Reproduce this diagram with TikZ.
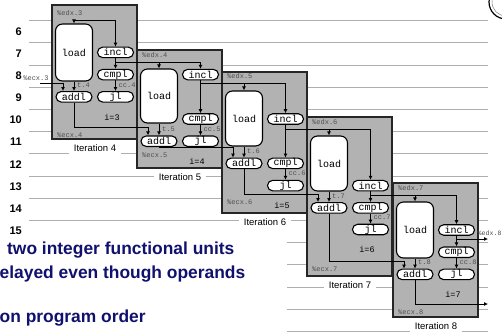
\documentclass[tikz,border=0pt]{standalone}
\usepackage{fontspec}
\setmainfont{Liberation Sans}
\setmonofont{Liberation Mono}
\usetikzlibrary{arrows.meta}
\definecolor{boxgray}{RGB}{178,178,178}
\definecolor{navy}{RGB}{16,16,110}
\definecolor{gridgray}{RGB}{175,175,175}
\definecolor{lblgray}{RGB}{80,80,80}
\begin{document}
\begin{tikzpicture}[x=1pt,y=-1pt,
  iterbox/.style={draw=black!85,line width=1.3pt,fill=boxgray},
  instr/.style={draw=black,line width=1.1pt,fill=white,rounded corners=5.2pt,minimum width=36pt,minimum height=10.5pt,inner sep=0pt,font=\ttfamily\fontsize{10}{10}\selectfont},
  loadbox/.style={draw=black,line width=1.1pt,fill=white,rounded corners=7pt,minimum width=37pt,inner sep=0pt,font=\ttfamily\fontsize{10}{10}\selectfont},
  wire/.style={line width=0.9pt},
  arr/.style={wire,-{Latex[length=4pt,width=4pt]}},
  smalllbl/.style={font=\ttfamily\fontsize{7}{7}\selectfont,text=lblgray,inner sep=0pt},
  ilabel/.style={font=\ttfamily\fontsize{8.5}{8.5}\selectfont,inner sep=0pt},
  itername/.style={font=\fontsize{9.5}{9.5}\selectfont,fill=white,inner xsep=5pt,inner ysep=3.5pt},
  rownum/.style={font=\bfseries\fontsize{11}{11}\selectfont,anchor=east,inner sep=0pt},
  bullettext/.style={font=\bfseries\fontsize{17.4}{17.4}\selectfont,text=navy,anchor=west,inner sep=0pt},
  gridline/.style={draw=gridgray,line width=0.6pt}
]
\useasboundingbox (0,0) rectangle (502,332);
\fill[white] (0,0) rectangle (502,332);
% background timing lines
\foreach \g in {0,...,14}{
  \draw[gridline] (29,{20.4+22.2*\g}) -- (488,{20.4+22.2*\g});
}
% row numbers
\foreach \n [count=\i from 0] in {6,...,15}{
  \node[rownum] (r\n) at (22,{31.6+22.1*\i}) {\n};
}
% input %ecx.3
\coordinate (ecxin) at (40,83);
\node[smalllbl] (ecx3) at (36,78) {\%ecx.3};
% iterations
\foreach \k/\bx/\bt/\bb/\wy/\lt/\lb/\ic/\cy/\jy/\ay/\oy/\iy in {
 4/52/5/139/20/24/81/52.4/74.6/96.8/96.8/127/117.5,
 5/137/50/168/62/69/123/74.6/119/141.2/141.2/147/161,
 6/222/72/213/83/91/146/119/163.4/185.6/163.4/194/205,
 7/307/117/276/129/136/191/185.6/207.8/229.5/207.8/261/249,
 8/393/183/317/195/202/258/230/252.2/274.4/274.4/304/294}{
  \pgfmathtruncatemacro\pk{\k-1}
  \pgfmathsetmacro\lh{\lb-\lt}
  \draw[iterbox] (\bx,\bt) rectangle ({\bx+85},\bb);
  \node[loadbox,minimum height=\lh pt] (ld\k) at ({\bx+22},{(\lt+\lb)/2}) {load};
  \node[instr] (in\k) at ({\bx+63.5},\ic) {incl};
  \node[instr] (cm\k) at ({\bx+63.5},\cy) {cmpl};
  \node[instr] (jl\k) at ({\bx+63.5},\jy) {jl};
  \node[instr] (ad\k) at ({\bx+22},\ay) {addl};
  \coordinate (e\k) at ({\bx+22},\wy);
  \coordinate (o\k) at ({\bx+22},\oy);
  % %edx wire
  \draw[arr] (e\k) -- (ld\k);
  \draw[arr] (e\k) -| (in\k);
  \ifnum\k>4
    \draw[wire] (in\pk.south |- e\k) -- (e\k);
    \draw[arr] (ad\pk.south) -- (o\pk) -| ([xshift=-11pt]ad\k.north);
  \else
    \draw[arr] (ecxin) -| ([xshift=-11pt]ad\k.north);
  \fi
  \draw[arr] (ld\k) -- (ad\k);
  \draw[arr] (in\k) -- (cm\k);
  \draw[arr] (cm\k) -- (jl\k);
  \node[smalllbl,anchor=west] (tl\k) at ({\bx+25},{\ay-12}) {t.\k};
  \node[smalllbl,anchor=west] (cc\k) at ({\bx+66.5},{\jy-12}) {cc.\k};
  \node[smalllbl,anchor=west] (ed\k) at ({\bx+5},{\wy-6.5}) {\%edx.\pk};
  \node[smalllbl,anchor=west] (ec\k) at ({\bx+5},{\oy+8.5}) {\%ecx.\k};
  \node[ilabel] (il\k) at ({\bx+60},\iy) {i=\pk};
  \node[itername] (it\k) at ({\bx+43},{\bb+9}) {Iteration \k};
}
% outputs of iteration 8
\coordinate (edxout) at (488,239);
\coordinate (ecxout) at (488,304);
\draw[arr] (in8.south |- edxout) -- (edxout);
\node[smalllbl,anchor=west,font=\ttfamily\fontsize{6.6}{6.6}\selectfont] (edx8) at (477.5,233) {\%edx.8};
\draw[arr] (ad8.south) -- (o8) -- (ecxout);
% logo fragment
\draw[line width=1.2pt] (506,2) circle (17);
\draw[gray,line width=0.5pt] (506,2) circle (14);
% slide text
\fill[white] (0,236) rectangle (287,332);
\node[bullettext] (t1) at (7,250) {two integer functional units};
\node[bullettext] (t2) at (-0.5,274) {elayed even though operands};
\node[bullettext] (t3) at (-0.5,318) {on program order};
\end{tikzpicture}
\end{document}
